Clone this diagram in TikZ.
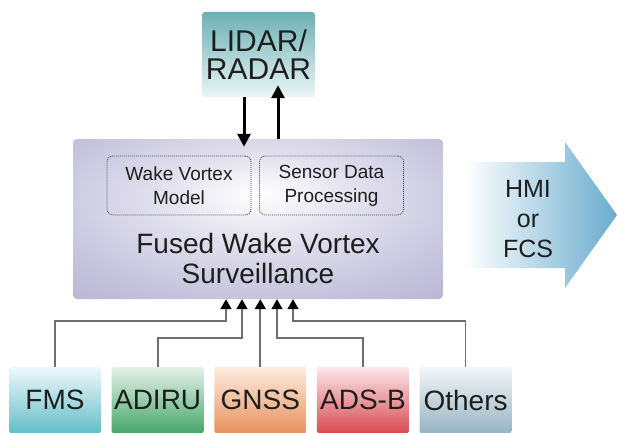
\documentclass[tikz,border=0pt]{standalone}
\usepackage{fontspec}
\setmainfont{Liberation Sans}
\usetikzlibrary{arrows.meta,positioning}
\definecolor{txt}{RGB}{30,30,30}
\definecolor{lav}{RGB}{150,145,192}
\definecolor{feedgray}{RGB}{110,110,110}
\definecolor{hmiblue}{RGB}{105,172,205}
\definecolor{lidartop}{RGB}{108,176,180}
\definecolor{lidarbot}{RGB}{234,245,245}
\definecolor{fmstop}{RGB}{238,248,250}
\definecolor{fmsbot}{RGB}{100,190,200}
\definecolor{adirutop}{RGB}{230,243,234}
\definecolor{adirubot}{RGB}{70,165,105}
\definecolor{gnsstop}{RGB}{252,236,224}
\definecolor{gnssbot}{RGB}{232,146,92}
\definecolor{adsbtop}{RGB}{252,232,234}
\definecolor{adsbbot}{RGB}{215,75,82}
\definecolor{othtop}{RGB}{243,246,248}
\definecolor{othbot}{RGB}{150,180,195}
\pgfdeclareradialshading{fusedshade}{\pgfpoint{0bp}{8bp}}{color(0bp)=(white); color(12bp)=(white!75!lav); color(30bp)=(white!45!lav); color(50bp)=(white!18!lav); color(72bp)=(lav)}
\tikzset{
  srcbox/.style={minimum width=92pt, minimum height=66pt, inner sep=0pt, rounded corners=2pt, text=txt, font=\fontsize{28}{30}\selectfont},
  subbox/.style={draw=gray!55!black, line width=0.8pt, dash pattern=on 1pt off 1pt, rounded corners=6pt, minimum width=144pt, minimum height=59pt, inner sep=0pt, align=center, text=txt, font=\fontsize{19}{24}\selectfont},
  feed/.style={draw=feedgray, line width=1.7pt, -{Triangle[width=11pt,length=10pt,black]}},
  link/.style={line width=3pt, -{Triangle[width=13pt,length=13pt]}}
}
\begin{document}
\begin{tikzpicture}[x=1pt,y=-1pt]
\useasboundingbox (0,0) rectangle (618,433);
\node[shade, shading=fusedshade, rounded corners=4pt, minimum width=370pt, minimum height=160pt] (fused) at (258,219) {};
\node[subbox] (model) at (179,185.5) {Wake Vortex\\Model};
\node[subbox] (proc) at (331.5,185.5) {Sensor Data\\Processing};
\node[align=center, inner sep=0pt, text=txt, font=\fontsize{28}{30}\selectfont] (fusedtxt) at (258,258) {Fused Wake Vortex\\Surveillance};
\node[top color=lidartop, bottom color=lidarbot, rounded corners=3pt, minimum width=113pt, minimum height=85pt, inner sep=0pt, align=center, text=txt, font=\fontsize{30}{28}\selectfont] (lidar) at (258.5,54.5) {LIDAR/\\RADAR};
\draw[link] ([xshift=-14.5pt]lidar.south) -- ([xshift=-14pt,yshift=-8pt]fused.north);
\draw[link] ([xshift=20pt]fused.north) -- ([xshift=19.5pt,yshift=12pt]lidar.south);
\shade[left color=white, right color=hmiblue] (465,162) -- (565,162) -- (565,142) -- (617,215) -- (565,288) -- (565,268) -- (465,268) -- cycle;
\node[align=center, inner sep=0pt, text=txt, font=\fontsize{25}{30}\selectfont] (hmi) at (528,219) {HMI\\or\\FCS};
\node[srcbox, top color=fmstop, bottom color=fmsbot] (fms) at (55,400) {FMS};
\node[srcbox, top color=adirutop, bottom color=adirubot, right=10.25pt of fms] (adiru) {ADIRU};
\node[srcbox, top color=gnsstop, bottom color=gnssbot, right=10.25pt of adiru] (gnss) {GNSS};
\node[srcbox, top color=adsbtop, bottom color=adsbbot, right=10.25pt of gnss] (adsb) {ADS-B};
\node[srcbox, top color=othtop, bottom color=othbot, right=10.25pt of adsb] (others) {Others};
\draw[feed] (fms.north) -- ++(0,-46) -| ([xshift=-32pt]fused.south);
\draw[feed] (adiru.north) -- ++(0,-29) -| ([xshift=-16pt]fused.south);
\draw[feed] (gnss.north) -- (gnss.north |- fused.south);
\draw[feed] (adsb.north) -- ++(0,-29) -| ([xshift=19pt]fused.south);
\draw[feed] (others.north) -- ++(0,-46) -| ([xshift=35pt]fused.south);
\end{tikzpicture}
\end{document}
